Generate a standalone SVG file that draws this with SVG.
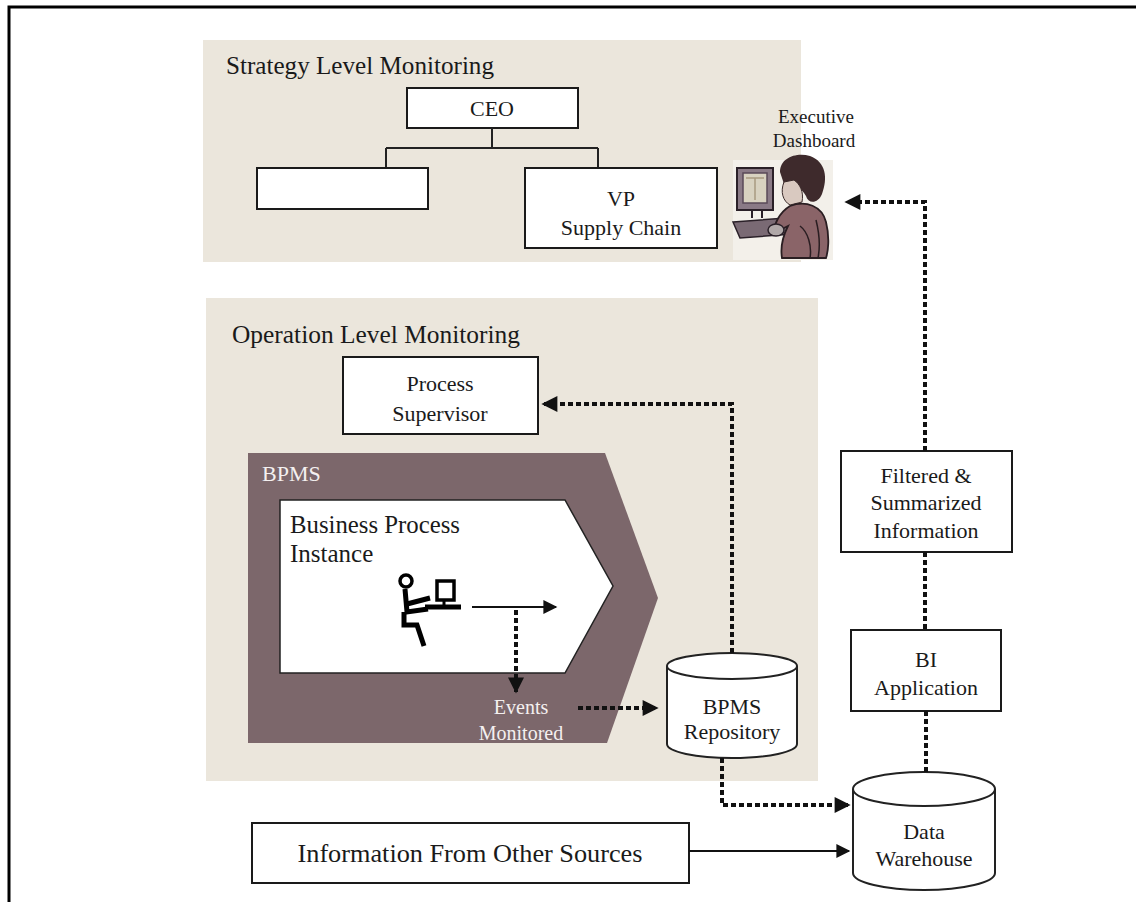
<svg xmlns="http://www.w3.org/2000/svg" width="1136" height="902" viewBox="0 0 1136 902">
  <style>
    text { font-family: "Liberation Serif", "DejaVu Serif", serif; fill: #1a1a1a; }
    .box { fill: #ffffff; stroke: #1a1a1a; stroke-width: 2; }
    .panel { fill: #ebe6dc; }
    .dots { fill: none; stroke: #111; stroke-width: 4; stroke-dasharray: 5 3; }
    .solid { fill: none; stroke: #111; stroke-width: 2; }
    .org { fill: none; stroke: #222; stroke-width: 2; }
    .lbl { font-size: 22px; text-anchor: middle; }
    .head { font-size: 25px; }
    .white { fill: #f4f0f0; }
  </style>
  <defs>
    <marker id="bigHead" viewBox="0 0 10 10" refX="9" refY="5" markerWidth="4.5" markerHeight="4" markerUnits="strokeWidth" orient="auto">
      <path d="M0,0 L10,5 L0,10 Z" fill="#111"/>
    </marker>
    <marker id="thinHead" viewBox="0 0 10 10" refX="9" refY="5" markerWidth="10" markerHeight="7" markerUnits="strokeWidth" orient="auto">
      <path d="M0,0 L10,5 L0,10 Z" fill="#111"/>
    </marker>
  </defs>

  <rect x="0" y="0" width="1136" height="902" fill="#ffffff"/>
  <!-- page frame -->
  <path d="M9,902 V7 H1136" fill="none" stroke="#000" stroke-width="3"/>

  <!-- Strategy level panel -->
  <g id="strategy-panel">
    <rect class="panel" x="203" y="40" width="598" height="222"/>
    <text class="head" x="226" y="74" textLength="268" lengthAdjust="spacingAndGlyphs">Strategy Level Monitoring</text>
  </g>

  <g id="ceo">
    <rect class="box" x="407" y="88" width="171" height="40"/>
    <text class="lbl" x="492" y="116">CEO</text>
  </g>
  <g id="org-lines">
    <path class="org" d="M492,128 V148 M386,148 H598 M386,148 V168 M598,148 V168"/>
  </g>
  <g id="unnamed-role">
    <rect class="box" x="257" y="168" width="171" height="41"/>
  </g>
  <g id="vp-supply-chain">
    <rect class="box" x="525" y="168" width="192" height="80"/>
    <text class="lbl" x="621" y="206">VP</text>
    <text class="lbl" x="621" y="235">Supply Chain</text>
  </g>

  <!-- Executive dashboard: woman at a workstation -->
  <g id="executive-dashboard">
    <rect x="733" y="160" width="100" height="100" fill="#f3f0ea"/>
    <text class="lbl" x="816" y="123" style="font-size:19px">Executive</text>
    <text class="lbl" x="814" y="147" style="font-size:19px">Dashboard</text>
    <!-- monitor -->
    <rect x="737" y="168" width="36" height="42" fill="#8a7a86" stroke="#2a2028" stroke-width="2"/>
    <rect x="743" y="173" width="24" height="30" fill="#d8d2c0" stroke="#5a4a58" stroke-width="1.5"/>
    <path d="M746,178 H764 M755,178 V200" stroke="#a89a80" stroke-width="1.5"/>
    <path d="M752,210 V218 M762,210 V218" stroke="#2a2028" stroke-width="2"/>
    <!-- desk / keyboard -->
    <path d="M733,222 L786,218 L792,234 L740,238 Z" fill="#7a6a74" stroke="#2a2028" stroke-width="1.5"/>
    <!-- hair -->
    <path d="M780,172 C780,158 796,152 810,156 C826,162 828,178 822,194 C818,204 808,204 806,196 C800,186 792,182 784,184 Z" fill="#3e2a2c"/>
    <!-- face -->
    <path d="M784,182 C780,192 783,201 790,205 L802,202 C804,192 800,184 794,180 Z" fill="#d9c9c0" stroke="#3a2a2a" stroke-width="1"/>
    <!-- body -->
    <path d="M790,206 C806,200 822,206 826,222 C830,238 828,252 826,258 L782,258 C780,246 784,234 788,226 L776,232 C772,226 780,212 790,206 Z" fill="#8a6468" stroke="#2a1e22" stroke-width="1.8"/>
    <path d="M800,226 C808,232 812,246 810,258 M816,220 C820,236 820,248 818,258" stroke="#2a1e22" stroke-width="1.5" fill="none"/>
    <!-- hands on keyboard -->
    <ellipse cx="776" cy="230" rx="8" ry="6" fill="#b0a8a8" stroke="#2a2028" stroke-width="1.5"/>
  </g>

  <!-- Operation level panel -->
  <g id="operation-panel">
    <rect class="panel" x="206" y="298" width="612" height="483"/>
    <text class="head" x="232" y="343" textLength="288" lengthAdjust="spacingAndGlyphs">Operation Level Monitoring</text>
  </g>

  <g id="process-supervisor">
    <rect class="box" x="343" y="357" width="195" height="77"/>
    <text class="lbl" x="440" y="391">Process</text>
    <text class="lbl" x="440" y="421">Supervisor</text>
  </g>

  <!-- BPMS chevron with the business process instance inside -->
  <g id="bpms">
    <polygon points="248,453 605,453 658,598 607,743 248,743" fill="#7c676b"/>
    <text x="262" y="481" style="font-size:22px" class="white">BPMS</text>
  </g>
  <g id="business-process-instance">
    <polygon points="280,500 565,500 613,586 565,673 280,673" fill="#ffffff" stroke="#222" stroke-width="1.5"/>
    <text x="290" y="533" style="font-size:25px" textLength="170" lengthAdjust="spacingAndGlyphs">Business Process</text>
    <text x="290" y="562" style="font-size:25px">Instance</text>
    <!-- stick figure at a computer -->
    <g id="worker-icon" fill="none" stroke="#000" stroke-width="5" stroke-linecap="butt">
      <circle cx="406" cy="581" r="6" stroke-width="3.5"/>
      <path d="M405,589 L407,612 L428,609"/>
      <path d="M407,604 L430,598"/>
      <path d="M404,612 V625 H417 L424,646"/>
      <path d="M425,607 H461"/>
      <rect x="437" y="581" width="17" height="19" stroke-width="3.5"/>
      <path d="M444,601 V606" stroke-width="3"/>
    </g>
  </g>

  <g id="events-monitored">
    <text x="521" y="714" class="lbl white" style="font-size:20px">Events</text>
    <text x="521" y="740" class="lbl white" style="font-size:20px">Monitored</text>
  </g>

  <!-- BPMS repository cylinder -->
  <g id="bpms-repository">
    <path d="M667,666 V744 A65,14 0 0 0 797,744 V666" fill="#ffffff" stroke="#222" stroke-width="2"/>
    <ellipse cx="732" cy="666" rx="65" ry="13" fill="#ffffff" stroke="#222" stroke-width="2"/>
    <text class="lbl" x="732" y="714">BPMS</text>
    <text class="lbl" x="732" y="739">Repository</text>
  </g>

  <!-- Data warehouse cylinder -->
  <g id="data-warehouse">
    <path d="M853,789 V873 A71,17 0 0 0 995,873 V789" fill="#ffffff" stroke="#222" stroke-width="2"/>
    <ellipse cx="924" cy="789" rx="71" ry="17" fill="#ffffff" stroke="#222" stroke-width="2"/>
    <text class="lbl" x="924" y="839">Data</text>
    <text class="lbl" x="924" y="866">Warehouse</text>
  </g>

  <g id="bi-application">
    <rect class="box" x="851" y="630" width="150" height="81"/>
    <text class="lbl" x="926" y="667">BI</text>
    <text class="lbl" x="926" y="695">Application</text>
  </g>

  <g id="filtered-summarized">
    <rect class="box" x="841" y="451" width="171" height="101"/>
    <text class="lbl" x="926" y="483">Filtered &amp;</text>
    <text class="lbl" x="926" y="510">Summarized</text>
    <text class="lbl" x="926" y="538">Information</text>
  </g>

  <g id="other-sources">
    <rect class="box" x="252" y="823" width="437" height="60"/>
    <text x="470" y="862" style="font-size:25px" text-anchor="middle" textLength="345" lengthAdjust="spacingAndGlyphs">Information From Other Sources</text>
  </g>

  <!-- connectors -->
  <g id="connectors">
    <path class="solid" d="M472,607 H556" marker-end="url(#thinHead)"/>
    <path class="dots" d="M516,610 V692" marker-end="url(#bigHead)"/>
    <path class="dots" d="M578,708 H657" marker-end="url(#bigHead)"/>
    <path class="dots" d="M732,653 V404 H543" marker-end="url(#bigHead)"/>
    <path class="dots" d="M722,758 V805 H849" marker-end="url(#bigHead)"/>
    <path class="dots" d="M926,711 V772"/>
    <path class="dots" d="M925,552 V630"/>
    <path class="dots" d="M925,451 V202 H846" marker-end="url(#bigHead)"/>
    <path class="solid" d="M689,851 H849" marker-end="url(#thinHead)"/>
  </g>
</svg>
